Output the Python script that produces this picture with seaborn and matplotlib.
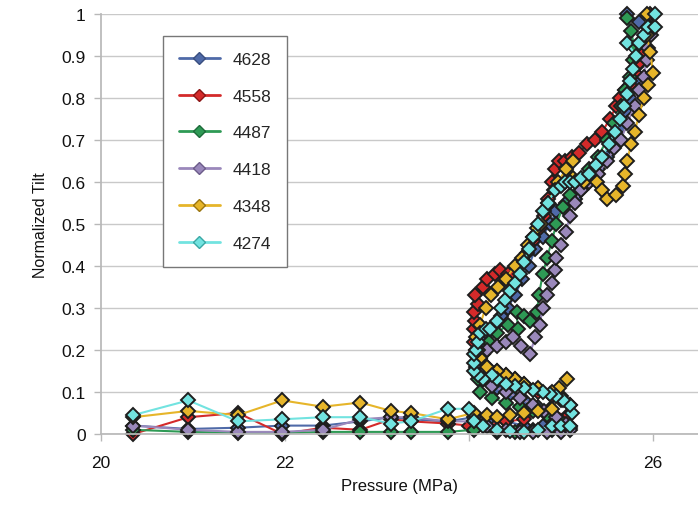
import matplotlib
matplotlib.use("Agg")
import matplotlib.pyplot as plt
import seaborn as sns
import pandas as pd
from matplotlib.lines import Line2D

# ---------------- data ----------------
series_names = ["4628", "4558", "4487", "4418", "4348", "4274"]
colors = ["#4f6aa8", "#d42a2a", "#2e9a55", "#9a88bb", "#e6b52a", "#72e3e0"]
legend_edges = ["#3a4f80", "#8a1515", "#1d6a3a", "#6c5c8a", "#9a7510", "#3aa8a5"]

low_pressure = [20.35, 20.95, 21.49, 21.97, 22.41, 22.82, 23.15, 23.37, 23.77]

p_4628 = low_pressure + [24.05, 24.2, 24.4, 24.6, 24.8, 25.0, 25.1, 25.05, 24.9, 24.75, 24.6, 24.45,
                         24.3, 24.15, 24.08, 24.1, 24.15, 24.2, 24.28, 24.35, 24.42, 24.5, 24.58,
                         24.65, 24.72, 24.8, 24.88, 24.95, 25.05, 25.15, 25.22, 25.3, 25.4, 25.5,
                         25.58, 25.65, 25.7, 25.75, 25.8, 25.85, 25.9, 25.95, 25.85, 25.72]
t_4628 = [0.02, 0.012, 0.015, 0.02, 0.02, 0.03, 0.04, 0.035, 0.03] + \
         [0.04, 0.03, 0.03, 0.02, 0.02, 0.015, 0.015, 0.04, 0.05, 0.065, 0.08, 0.095,
          0.11, 0.13, 0.16, 0.19, 0.22, 0.24, 0.26, 0.28, 0.30, 0.33, 0.37,
          0.40, 0.44, 0.47, 0.50, 0.53, 0.55, 0.56, 0.58, 0.60, 0.63, 0.66,
          0.70, 0.73, 0.77, 0.80, 0.84, 0.88, 0.92, 0.95, 0.98, 1.0]

p_4558 = low_pressure + [24.0, 24.2, 24.4, 24.6, 24.88, 25.07, 25.1, 25.0, 24.9, 24.75, 24.6, 24.5,
                         24.4, 24.3, 24.2, 24.12, 24.08, 24.05, 24.05, 24.07, 24.05, 24.1, 24.07,
                         24.15, 24.2, 24.28, 24.34, 24.42, 24.5, 24.57, 24.63, 24.7, 24.77, 24.82,
                         24.86, 24.9, 24.93, 24.98, 25.04, 25.12, 25.2, 25.28, 25.37, 25.45, 25.53,
                         25.6, 25.64, 25.7, 25.75, 25.8, 25.84, 25.88, 25.91, 25.95, 25.97]
t_4558 = [0.0, 0.04, 0.05, 0.0, 0.015, 0.01, 0.035, 0.03, 0.025] + \
         [0.02, 0.02, 0.03, 0.035, 0.06, 0.04, 0.07, 0.08, 0.09, 0.10, 0.12, 0.13,
          0.14, 0.15, 0.16, 0.18, 0.20, 0.22, 0.25, 0.27, 0.29, 0.31, 0.33,
          0.35, 0.37, 0.38, 0.39, 0.38, 0.38, 0.41, 0.43, 0.46, 0.49, 0.52,
          0.56, 0.60, 0.63, 0.65, 0.65, 0.66, 0.67, 0.69, 0.70, 0.72, 0.75,
          0.78, 0.80, 0.82, 0.83, 0.86, 0.88, 0.91, 0.94, 0.97, 1.0]

p_4487 = low_pressure + [24.05, 24.3, 24.5, 24.7, 24.9, 25.1, 25.0, 24.85, 24.7, 24.55, 24.4, 24.25,
                         24.12, 24.1, 24.12, 24.15, 24.22, 24.3, 24.42, 24.53, 24.52, 24.6, 24.66,
                         24.74, 24.76, 24.8, 24.85, 24.9, 24.95, 25.02, 25.1, 25.2, 25.3, 25.4,
                         25.5, 25.58, 25.65, 25.7, 25.75, 25.78, 25.8, 25.76, 25.72]
t_4487 = [0.01, 0.005, 0.003, 0.002, 0.005, 0.005, 0.005, 0.005, 0.005] + \
         [0.01, 0.005, 0.005, 0.01, 0.01, 0.02, 0.03, 0.045, 0.055, 0.065, 0.075, 0.085,
          0.10, 0.13, 0.16, 0.19, 0.22, 0.24, 0.26, 0.25, 0.29, 0.28, 0.27,
          0.29, 0.33, 0.38, 0.42, 0.46, 0.50, 0.54, 0.57, 0.60, 0.63, 0.66,
          0.70, 0.74, 0.78, 0.82, 0.85, 0.89, 0.92, 0.96, 0.99]

p_4418 = low_pressure + [24.05, 24.2, 24.4, 24.55, 24.7, 24.85, 25.0, 25.1, 25.05, 24.95, 24.82, 24.7,
                         24.55, 24.4, 24.25, 24.15, 24.1, 24.1, 24.15, 24.2, 24.3, 24.4, 24.48,
                         24.57, 24.66, 24.72, 24.77, 24.8, 24.85, 24.9, 24.93, 24.95, 25.0, 25.05,
                         25.1, 25.15, 25.22, 25.3, 25.4, 25.5, 25.58, 25.65, 25.72, 25.8, 25.85,
                         25.9, 25.93, 25.95, 25.98, 26.0]
t_4418 = [0.02, 0.01, 0.005, 0.005, 0.01, 0.035, 0.04, 0.04, 0.03] + \
         [0.03, 0.02, 0.01, 0.005, 0.005, 0.005, 0.005, 0.01, 0.025, 0.04, 0.055, 0.07,
          0.085, 0.10, 0.115, 0.13, 0.15, 0.17, 0.19, 0.20, 0.21, 0.22, 0.23,
          0.21, 0.19, 0.23, 0.26, 0.30, 0.33, 0.36, 0.39, 0.42, 0.45, 0.48,
          0.52, 0.55, 0.58, 0.60, 0.62, 0.65, 0.68, 0.70, 0.74, 0.78, 0.82,
          0.85, 0.89, 0.92, 0.95, 0.97]

p_4348 = low_pressure + [24.05, 24.2, 24.3, 24.45, 24.6, 24.75, 24.9, 25.0, 25.07, 24.98, 24.9, 24.75,
                         24.6, 24.5, 24.4, 24.3, 24.2, 24.12, 24.1, 24.08, 24.12, 24.18, 24.24,
                         24.32, 24.4, 24.5, 24.58, 24.64, 24.7, 24.74, 24.78, 24.82, 24.86, 24.92,
                         24.97, 25.05, 25.13, 25.13, 25.25, 25.39, 25.45, 25.5, 25.6, 25.67, 25.7,
                         25.72, 25.76, 25.8, 25.85, 25.9, 25.95, 26.0, 25.97, 25.93, 25.93]
t_4348 = [0.04, 0.055, 0.045, 0.08, 0.065, 0.075, 0.055, 0.05, 0.035] + \
         [0.05, 0.045, 0.04, 0.045, 0.05, 0.055, 0.06, 0.09, 0.13, 0.11, 0.10, 0.11,
          0.12, 0.13, 0.14, 0.15, 0.16, 0.18, 0.20, 0.23, 0.26, 0.30, 0.33,
          0.35, 0.37, 0.40, 0.42, 0.45, 0.47, 0.49, 0.50, 0.53, 0.55, 0.58,
          0.60, 0.63, 0.65, 0.61, 0.60, 0.60, 0.58, 0.56, 0.57, 0.59, 0.62,
          0.65, 0.69, 0.72, 0.76, 0.80, 0.83, 0.86, 0.91, 0.95, 1.0]

p_4274 = low_pressure + [24.0, 24.05, 24.15, 24.3, 24.45, 24.6, 24.75, 24.9, 25.0, 25.1, 25.12, 25.1,
                         25.02, 24.95, 24.88, 24.8, 24.7, 24.6, 24.5, 24.4, 24.3, 24.25, 24.15,
                         24.1, 24.05, 24.05, 24.05, 24.08, 24.1, 24.12, 24.18, 24.23, 24.3, 24.35,
                         24.39, 24.45, 24.5, 24.55, 24.6, 24.65, 24.7, 24.75, 24.8, 24.86, 24.93,
                         25.0, 25.04, 25.1, 25.15, 25.22, 25.3, 25.38, 25.45, 25.52, 25.59, 25.64,
                         25.68, 25.72, 25.75, 25.78, 25.82, 25.72, 25.85, 25.9, 25.95, 26.02, 26.02]
t_4274 = [0.045, 0.08, 0.03, 0.035, 0.04, 0.04, 0.025, 0.03, 0.06] + \
         [0.06, 0.03, 0.02, 0.01, 0.008, 0.005, 0.01, 0.02, 0.02, 0.02, 0.05, 0.07,
          0.08, 0.09, 0.095, 0.10, 0.105, 0.11, 0.115, 0.12, 0.13, 0.14, 0.13,
          0.14, 0.15, 0.17, 0.19, 0.20, 0.22, 0.24, 0.25, 0.25, 0.27, 0.30,
          0.32, 0.34, 0.36, 0.38, 0.41, 0.44, 0.47, 0.50, 0.53, 0.55, 0.58,
          0.59, 0.60, 0.60, 0.60, 0.61, 0.62, 0.64, 0.66, 0.69, 0.72, 0.75,
          0.78, 0.81, 0.84, 0.87, 0.90, 0.93, 0.93, 0.95, 0.97, 0.97, 1.0]

x_ticks = [20, 22, 24, 26]
x_tick_labels = ["20", "22", "", "26"]
y_ticks = [0, 0.1, 0.2, 0.3, 0.4, 0.5, 0.6, 0.7, 0.8, 0.9, 1.0]
y_tick_labels = ["0", "0.1", "0.2", "0.3", "0.4", "0.5", "0.6", "0.7", "0.8", "0.9", "1"]

pressures = [p_4628, p_4558, p_4487, p_4418, p_4348, p_4274]
tilts = [t_4628, t_4558, t_4487, t_4418, t_4348, t_4274]

rows = []
for name, ps, ts in zip(series_names, pressures, tilts):
    for i, (p, t) in enumerate(zip(ps, ts)):
        rows.append({"series": name, "order": i, "Pressure": p, "Tilt": t})
df = pd.DataFrame(rows)

# ---------------- plot ----------------
sns.set_theme(style="white")
plt.rcParams["font.family"] = ["Liberation Sans", "DejaVu Sans"]

fig = plt.figure(figsize=(6.98, 5.06), dpi=100)
ax = fig.add_axes([101 / 698, 1 - 435 / 506, 597 / 698, 420 / 506])

palette = dict(zip(series_names, colors))
sns.lineplot(data=df, x="Pressure", y="Tilt", hue="series", hue_order=series_names,
             palette=palette, sort=False, estimator=None, marker="D", markersize=7,
             markeredgecolor="#1e1e1e", markeredgewidth=1.4, linewidth=1.5,
             legend=False, ax=ax, clip_on=False)

ax.set_xlim(20, 20 + 597 / 92)
ax.set_ylim(0, 1)
ax.set_xticks(x_ticks)
ax.set_xticklabels(x_tick_labels, fontsize=12.5)
ax.set_yticks(y_ticks)
ax.set_yticklabels(y_tick_labels, fontsize=12.5)
ax.yaxis.grid(True, color="#c9c9c9", linewidth=1.0)
ax.xaxis.grid(False)
ax.set_axisbelow(True)
for s in ["top", "right"]:
    ax.spines[s].set_visible(False)
ax.spines["left"].set_color("#b8b8b8")
ax.spines["bottom"].set_color("#b8b8b8")
ax.tick_params(axis="both", which="major", length=5, color="#b8b8b8", width=1.0,
               direction="out", bottom=True, left=True, labelcolor="#111111")
ax.tick_params(axis="x", pad=10)
ax.tick_params(axis="y", pad=6)

ax.set_xlabel("Pressure (MPa)", fontsize=12, color="#111111", labelpad=6)
ax.set_ylabel("Normalized Tilt", fontsize=11.5, color="#111111", labelpad=10)

handles = [Line2D([0], [0], color=c, marker="D", markersize=6, markeredgecolor=e,
                  markerfacecolor=c, markeredgewidth=1.0, linewidth=2)
           for c, e in zip(colors, legend_edges)]
leg = ax.legend(handles, series_names, loc="upper left",
                bbox_to_anchor=((163 - 101) / 597, (435 - 37) / 420),
                fontsize=12.5, frameon=True, fancybox=False, framealpha=1,
                edgecolor="#777777", labelspacing=1.25, handlelength=2.4,
                borderpad=0.9, handletextpad=0.7, borderaxespad=0)
leg.get_frame().set_linewidth(1.0)
leg.set_zorder(5)

fig.savefig("out.png", dpi=100)
